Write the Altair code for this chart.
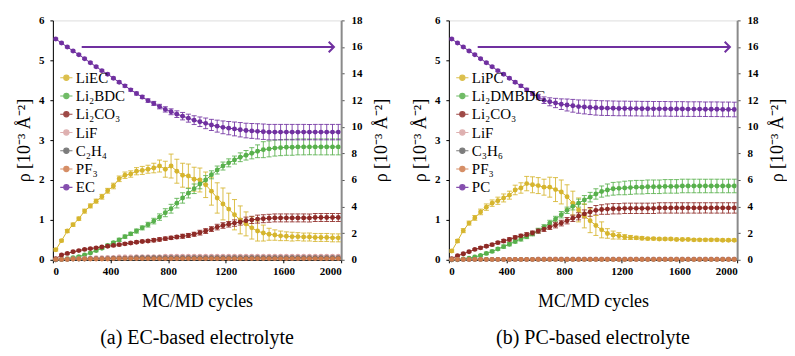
import altair as alt
import pandas as pd

cycles = list(range(20, 2000, 40))

a_names = ["LiEC", "Li₂BDC", "Li₂CO₃", "LiF", "C₂H₄", "PF₃", "EC"]
b_names = ["LiPC", "Li₂DMBDC", "Li₂CO₃", "LiF", "C₃H₆", "PF₃", "PC"]
colors = ["#D6B52E", "#58B04C", "#8E2A26", "#D9A3A3", "#666666", "#CF7B4C", "#7030A0"]

# ---------- panel (a) EC-based ----------
a_liec = [0.25, 0.48, 0.72, 0.88, 1.03, 1.22, 1.35, 1.47, 1.58, 1.73,
          1.85, 2.03, 2.12, 2.15, 2.22, 2.24, 2.27, 2.30, 2.35, 2.27,
          2.35, 2.22, 2.12, 2.10, 2.02, 2.00, 1.88, 1.72, 1.55, 1.40,
          1.27, 1.13, 1.00, 0.90, 0.80, 0.72, 0.67, 0.64, 0.62, 0.60,
          0.59, 0.58, 0.58, 0.57, 0.57, 0.56, 0.56, 0.56, 0.55, 0.55]
a_liec_err = [0.03, 0.03, 0.04, 0.04, 0.04, 0.05, 0.05, 0.05, 0.06, 0.06,
              0.07, 0.07, 0.08, 0.08, 0.09, 0.10, 0.10, 0.12, 0.15, 0.20,
              0.30, 0.30, 0.30, 0.30, 0.30, 0.30, 0.32, 0.35, 0.38, 0.40,
              0.40, 0.38, 0.35, 0.30, 0.28, 0.25, 0.20, 0.15, 0.13, 0.12,
              0.11, 0.11, 0.10, 0.10, 0.10, 0.10, 0.10, 0.10, 0.10, 0.10]
a_bdc = [0.00, 0.01, 0.03, 0.05, 0.08, 0.12, 0.17, 0.23, 0.29, 0.36,
         0.43, 0.50, 0.58, 0.65, 0.72, 0.80, 0.88, 0.97, 1.07, 1.18,
         1.28, 1.42, 1.55, 1.67, 1.78, 1.90, 2.00, 2.13, 2.25, 2.35,
         2.43, 2.50, 2.57, 2.62, 2.67, 2.72, 2.76, 2.78, 2.80, 2.81,
         2.82, 2.82, 2.83, 2.83, 2.83, 2.83, 2.83, 2.83, 2.83, 2.83]
a_bdc_err = [0.01, 0.01, 0.01, 0.02, 0.02, 0.02, 0.02, 0.03, 0.03, 0.03,
             0.03, 0.04, 0.04, 0.04, 0.05, 0.05, 0.06, 0.07, 0.08, 0.10,
             0.11, 0.12, 0.13, 0.12, 0.12, 0.12, 0.11, 0.10, 0.10, 0.10,
             0.10, 0.10, 0.11, 0.12, 0.14, 0.16, 0.20, 0.20, 0.20, 0.20,
             0.20, 0.20, 0.20, 0.20, 0.20, 0.20, 0.20, 0.20, 0.20, 0.20]
a_co3 = [0.03, 0.12, 0.16, 0.20, 0.23, 0.26, 0.28, 0.30, 0.32, 0.34,
         0.36, 0.38, 0.40, 0.42, 0.44, 0.46, 0.47, 0.49, 0.51, 0.53,
         0.55, 0.57, 0.59, 0.61, 0.64, 0.68, 0.72, 0.77, 0.82, 0.86,
         0.89, 0.92, 0.95, 0.98, 1.00, 1.02, 1.03, 1.04, 1.05, 1.05,
         1.05, 1.05, 1.05, 1.05, 1.05, 1.06, 1.06, 1.06, 1.06, 1.06]
a_co3_err = [0.01, 0.02, 0.02, 0.02, 0.02, 0.02, 0.02, 0.02, 0.02, 0.03,
             0.03, 0.03, 0.03, 0.03, 0.03, 0.03, 0.03, 0.04, 0.04, 0.04,
             0.04, 0.04, 0.05, 0.05, 0.05, 0.06, 0.06, 0.06, 0.07, 0.07,
             0.07, 0.08, 0.08, 0.09, 0.09, 0.10, 0.10, 0.10, 0.10, 0.10,
             0.10, 0.10, 0.10, 0.10, 0.10, 0.10, 0.10, 0.10, 0.10, 0.10]
a_lif = [0.00, 0.01, 0.02, 0.03, 0.03, 0.04, 0.04, 0.05, 0.05, 0.06,
         0.06, 0.07, 0.07, 0.07, 0.08, 0.08, 0.08, 0.08, 0.08, 0.09,
         0.09, 0.09, 0.09, 0.09, 0.09, 0.09, 0.09, 0.09, 0.09, 0.09,
         0.09, 0.09, 0.09, 0.09, 0.09, 0.09, 0.09, 0.09, 0.09, 0.09,
         0.09, 0.09, 0.09, 0.09, 0.09, 0.09, 0.09, 0.09, 0.09, 0.09]
a_c2h4 = [0.00, 0.01, 0.01, 0.02, 0.02, 0.02, 0.03, 0.03, 0.03, 0.03,
          0.04, 0.04, 0.04, 0.04, 0.05, 0.05, 0.05, 0.05, 0.05, 0.05,
          0.05, 0.05, 0.05, 0.05, 0.05, 0.05, 0.05, 0.05, 0.05, 0.05,
          0.05, 0.05, 0.05, 0.05, 0.05, 0.05, 0.05, 0.05, 0.05, 0.05,
          0.05, 0.05, 0.05, 0.05, 0.05, 0.05, 0.05, 0.05, 0.05, 0.05]
a_pf3 = [0.01, 0.01, 0.01, 0.02, 0.02, 0.02, 0.02, 0.02, 0.02, 0.02,
         0.03, 0.03, 0.03, 0.03, 0.03, 0.03, 0.03, 0.03, 0.03, 0.03,
         0.03, 0.03, 0.03, 0.03, 0.03, 0.03, 0.03, 0.03, 0.03, 0.03,
         0.03, 0.03, 0.03, 0.03, 0.03, 0.03, 0.03, 0.03, 0.03, 0.03,
         0.03, 0.03, 0.03, 0.03, 0.03, 0.03, 0.03, 0.03, 0.03, 0.03]
small_err = [0.01, 0.01, 0.01, 0.01, 0.01, 0.01, 0.01, 0.01, 0.01, 0.01,
             0.01, 0.01, 0.01, 0.01, 0.01, 0.02, 0.02, 0.02, 0.02, 0.02,
             0.02, 0.02, 0.02, 0.02, 0.02, 0.02, 0.02, 0.02, 0.02, 0.02,
             0.02, 0.02, 0.02, 0.02, 0.02, 0.02, 0.02, 0.02, 0.02, 0.02,
             0.02, 0.02, 0.02, 0.02, 0.02, 0.02, 0.02, 0.02, 0.02, 0.02]
# solvent on right axis (0-18)
a_ec = [16.60, 16.30, 16.00, 15.70, 15.42, 15.12, 14.82, 14.52, 14.22, 13.95,
        13.65, 13.35, 13.08, 12.78, 12.50, 12.24, 11.97, 11.76, 11.52, 11.31,
        11.13, 10.95, 10.80, 10.65, 10.50, 10.38, 10.26, 10.14, 10.05, 9.96,
        9.90, 9.84, 9.78, 9.72, 9.69, 9.66, 9.63, 9.60, 9.60, 9.60,
        9.60, 9.60, 9.60, 9.60, 9.60, 9.60, 9.60, 9.60, 9.60, 9.60]
a_ec_err = [0.06, 0.06, 0.06, 0.06, 0.06, 0.06, 0.07, 0.07, 0.07, 0.08,
            0.08, 0.09, 0.10, 0.10, 0.11, 0.12, 0.13, 0.15, 0.17, 0.20,
            0.22, 0.25, 0.28, 0.30, 0.33, 0.36, 0.40, 0.42, 0.45, 0.48,
            0.50, 0.52, 0.54, 0.55, 0.56, 0.57, 0.58, 0.58, 0.58, 0.58,
            0.58, 0.58, 0.58, 0.58, 0.58, 0.58, 0.58, 0.58, 0.58, 0.58]

# ---------- panel (b) PC-based ----------
b_lipc = [0.22, 0.47, 0.73, 0.92, 1.05, 1.20, 1.32, 1.42, 1.48, 1.55,
          1.62, 1.75, 1.80, 1.91, 1.88, 1.86, 1.82, 1.82, 1.76, 1.70,
          1.58, 1.42, 1.25, 1.10, 0.98, 0.86, 0.75, 0.66, 0.62, 0.60,
          0.57, 0.56, 0.55, 0.54, 0.53, 0.53, 0.52, 0.52, 0.52, 0.51,
          0.51, 0.51, 0.50, 0.50, 0.50, 0.50, 0.50, 0.49, 0.49, 0.49]
b_lipc_err = [0.03, 0.04, 0.05, 0.05, 0.06, 0.07, 0.08, 0.08, 0.09, 0.10,
              0.10, 0.12, 0.13, 0.18, 0.20, 0.20, 0.20, 0.25, 0.30, 0.30,
              0.30, 0.30, 0.30, 0.30, 0.30, 0.25, 0.20, 0.12, 0.10, 0.08,
              0.06, 0.05, 0.04, 0.04, 0.03, 0.03, 0.03, 0.03, 0.03, 0.03,
              0.03, 0.03, 0.03, 0.03, 0.03, 0.03, 0.03, 0.03, 0.03, 0.03]
b_dmbdc = [0.00, 0.01, 0.02, 0.04, 0.07, 0.11, 0.16, 0.21, 0.27, 0.33,
           0.39, 0.46, 0.52, 0.58, 0.65, 0.73, 0.82, 0.92, 1.02, 1.13,
           1.24, 1.34, 1.42, 1.50, 1.57, 1.65, 1.71, 1.75, 1.78, 1.79,
           1.80, 1.81, 1.82, 1.82, 1.83, 1.83, 1.83, 1.84, 1.84, 1.84,
           1.85, 1.85, 1.85, 1.85, 1.85, 1.85, 1.85, 1.85, 1.85, 1.85]
b_dmbdc_err = [0.01, 0.01, 0.01, 0.02, 0.02, 0.02, 0.03, 0.03, 0.03, 0.04,
               0.04, 0.04, 0.05, 0.05, 0.05, 0.06, 0.06, 0.07, 0.07, 0.08,
               0.08, 0.09, 0.10, 0.11, 0.12, 0.13, 0.14, 0.15, 0.16, 0.16,
               0.17, 0.17, 0.17, 0.17, 0.17, 0.17, 0.17, 0.17, 0.17, 0.17,
               0.17, 0.17, 0.17, 0.17, 0.17, 0.17, 0.17, 0.17, 0.17, 0.17]
b_co3 = [0.03, 0.10, 0.15, 0.20, 0.26, 0.30, 0.34, 0.38, 0.43, 0.47,
         0.51, 0.56, 0.60, 0.63, 0.67, 0.72, 0.77, 0.82, 0.87, 0.92,
         0.98, 1.04, 1.09, 1.15, 1.20, 1.24, 1.26, 1.27, 1.28, 1.28,
         1.29, 1.29, 1.29, 1.29, 1.29, 1.29, 1.30, 1.30, 1.30, 1.30,
         1.30, 1.30, 1.30, 1.30, 1.30, 1.30, 1.30, 1.30, 1.30, 1.30]
b_co3_err = [0.01, 0.02, 0.02, 0.02, 0.02, 0.03, 0.03, 0.03, 0.03, 0.04,
             0.04, 0.04, 0.04, 0.05, 0.05, 0.05, 0.06, 0.06, 0.07, 0.07,
             0.08, 0.08, 0.09, 0.10, 0.11, 0.12, 0.12, 0.13, 0.13, 0.13,
             0.13, 0.13, 0.13, 0.13, 0.13, 0.13, 0.13, 0.13, 0.13, 0.13,
             0.13, 0.13, 0.13, 0.13, 0.13, 0.13, 0.13, 0.13, 0.13, 0.13]
b_lif = [0.00, 0.01, 0.01, 0.01, 0.01, 0.01, 0.01, 0.01, 0.01, 0.01,
         0.01, 0.01, 0.01, 0.01, 0.01, 0.02, 0.02, 0.02, 0.02, 0.02,
         0.02, 0.02, 0.02, 0.02, 0.02, 0.02, 0.02, 0.02, 0.02, 0.02,
         0.02, 0.02, 0.02, 0.02, 0.02, 0.02, 0.02, 0.02, 0.02, 0.02,
         0.02, 0.02, 0.02, 0.02, 0.02, 0.02, 0.02, 0.02, 0.02, 0.02]
b_c3h6 = [0.00, 0.00, 0.01, 0.01, 0.01, 0.01, 0.01, 0.01, 0.01, 0.01,
          0.01, 0.01, 0.01, 0.01, 0.01, 0.01, 0.01, 0.01, 0.01, 0.01,
          0.01, 0.01, 0.01, 0.01, 0.01, 0.01, 0.01, 0.01, 0.01, 0.01,
          0.01, 0.01, 0.01, 0.01, 0.01, 0.01, 0.01, 0.01, 0.01, 0.01,
          0.01, 0.01, 0.01, 0.01, 0.01, 0.01, 0.01, 0.01, 0.01, 0.01]
b_pf3 = [0.01, 0.01, 0.01, 0.01, 0.01, 0.01, 0.01, 0.01, 0.01, 0.01,
         0.01, 0.01, 0.01, 0.01, 0.01, 0.01, 0.01, 0.01, 0.01, 0.01,
         0.01, 0.01, 0.01, 0.01, 0.01, 0.01, 0.01, 0.01, 0.01, 0.01,
         0.01, 0.01, 0.01, 0.01, 0.01, 0.01, 0.01, 0.01, 0.01, 0.01,
         0.01, 0.01, 0.01, 0.01, 0.01, 0.01, 0.01, 0.01, 0.01, 0.01]
b_pc = [16.60, 16.30, 16.00, 15.70, 15.42, 15.12, 14.82, 14.52, 14.22, 13.95,
        13.65, 13.35, 13.08, 12.78, 12.50, 12.24, 12.00, 11.88, 11.79, 11.70,
        11.64, 11.58, 11.52, 11.49, 11.46, 11.43, 11.41, 11.40, 11.39, 11.38,
        11.38, 11.37, 11.37, 11.36, 11.36, 11.35, 11.35, 11.35, 11.34, 11.34,
        11.34, 11.33, 11.33, 11.33, 11.32, 11.32, 11.32, 11.31, 11.31, 11.30]
b_pc_err = [0.06, 0.06, 0.06, 0.06, 0.06, 0.06, 0.07, 0.07, 0.07, 0.08,
            0.08, 0.09, 0.10, 0.12, 0.15, 0.20, 0.25, 0.30, 0.35, 0.40,
            0.45, 0.48, 0.50, 0.52, 0.54, 0.55, 0.55, 0.55, 0.55, 0.55,
            0.55, 0.55, 0.55, 0.55, 0.55, 0.55, 0.55, 0.55, 0.55, 0.55,
            0.55, 0.55, 0.55, 0.55, 0.55, 0.55, 0.55, 0.55, 0.55, 0.55]

arrow_start = 200
arrow_end = 1950
arrow_level = 16

x_ticks = [0, 400, 800, 1200, 1600, 2000]
left_ticks = [0, 1, 2, 3, 4, 5, 6]
right_ticks = [0, 2, 4, 6, 8, 10, 12, 14, 16, 18]

FONT = "Liberation Serif"
Y_TITLE = "ρ [10⁻³ Å⁻²]"
LEG_SYMBOL = ("M-1,0L-0.42,0M0.42,0L1,0"
              "M-0.42,0A0.42,0.42,0,1,1,0.42,0A0.42,0.42,0,1,1,-0.42,0Z")
HEAD = "M-1,-1L0,0L-1,1"
PLOT_W = 289
PLOT_H = 240


def table(names, series, errs):
    rows = []
    for name, vals, err in zip(names, series, errs):
        for c, v, e in zip(cycles, vals, err):
            rows.append({"series": name, "x": c, "y": v, "lo": v - e, "hi": v + e})
    return pd.DataFrame(rows)


def panel(names, species, species_err, solvent, solvent_err, caption):
    color = alt.Color(
        "series:N",
        scale=alt.Scale(domain=names, range=colors),
        legend=alt.Legend(
            title=None, orient="none", legendX=6, legendY=50,
            symbolType=LEG_SYMBOL, symbolSize=150, symbolStrokeWidth=1.2,
            labelFont=FONT, labelFontSize=15, labelColor="black",
            rowPadding=2.3, labelOffset=2, padding=0,
        ),
    )
    xscale = alt.Scale(domain=[0, 2000], nice=False)
    x_axis = alt.Axis(
        values=x_ticks, title="MC/MD cycles", format="d",
        labelFont=FONT, labelFontWeight="bold", labelFontSize=11,
        labelColor="black", tickSize=3, tickColor="black",
        domainColor="black", labelPadding=3, grid=False,
        titleFont=FONT, titleFontSize=18, titleFontWeight="normal",
        titleColor="black", titlePadding=16,
    )
    lscale = alt.Scale(domain=[0, 6], nice=False)
    rscale = alt.Scale(domain=[0, 18], nice=False)
    left_axis = alt.Axis(
        orient="left", values=left_ticks, title=Y_TITLE, grid=False,
        labelFont=FONT, labelFontWeight="bold", labelFontSize=11,
        labelColor="black", tickSize=3, tickColor="black",
        domainColor="black", labelPadding=6, minExtent=17, maxExtent=17,
        titleFont=FONT, titleFontSize=18, titleFontWeight="normal",
        titleColor="black", titlePadding=2,
    )
    right_axis = alt.Axis(
        orient="right", values=right_ticks, title=Y_TITLE, grid=False,
        labelFont=FONT, labelFontWeight="bold", labelFontSize=11,
        labelColor="black", tickSize=3, tickColor="#555555",
        domainColor="#8a8a8a", domainWidth=2, labelPadding=7,
        minExtent=22, maxExtent=22, titleAngle=270, titleBaseline="top",
        titleFont=FONT, titleFontSize=18, titleFontWeight="normal",
        titleColor="black", titlePadding=9,
    )

    def X(field):
        return alt.X(field, scale=xscale, axis=x_axis)

    df_l = table(names[:6], species, species_err)
    df_r = table(names[6:], [solvent], [solvent_err])

    def group(df, scale, axis):
        base = alt.Chart(df)
        bars = base.mark_rule(strokeWidth=1, opacity=0.85).encode(
            x=X("x:Q"), y=alt.Y("lo:Q", scale=scale, axis=axis), y2="hi:Q",
            color=color)
        cap_lo = base.mark_tick(orient="horizontal", size=5, thickness=1,
                                opacity=0.85).encode(
            x=X("x:Q"), y=alt.Y("lo:Q", scale=scale, axis=axis), color=color)
        cap_hi = base.mark_tick(orient="horizontal", size=5, thickness=1,
                                opacity=0.85).encode(
            x=X("x:Q"), y=alt.Y("hi:Q", scale=scale, axis=axis), color=color)
        line = base.mark_line(strokeWidth=1).encode(
            x=X("x:Q"), y=alt.Y("y:Q", scale=scale, axis=axis), color=color,
            detail="series:N")
        pts = base.mark_point(filled=True, size=24, opacity=1,
                              strokeWidth=0.6).encode(
            x=X("x:Q"), y=alt.Y("y:Q", scale=scale, axis=axis), color=color)
        return [bars, cap_lo, cap_hi, line, pts]

    left_layers = group(df_l, lscale, left_axis)
    right_layers = group(df_r, rscale, right_axis)

    arrow_df = pd.DataFrame({"x": [arrow_start], "x2": [arrow_end],
                             "y": [arrow_level]})
    arrow_line = alt.Chart(arrow_df).mark_rule(
        color="#7030A0", strokeWidth=2).encode(
        x=X("x:Q"), x2="x2:Q", y=alt.Y("y:Q", scale=rscale, axis=right_axis))
    arrow_head = alt.Chart(arrow_df).mark_point(
        shape=HEAD, filled=False, color="#7030A0", strokeWidth=2,
        size=110, opacity=1).encode(
        x=X("x2:Q"),
        y=alt.Y("y:Q", scale=rscale, axis=right_axis))

    left = alt.layer(*left_layers)
    right = alt.layer(*right_layers, arrow_line, arrow_head)
    return alt.layer(left, right).resolve_scale(y="independent").properties(
        width=PLOT_W, height=PLOT_H,
        title=alt.TitleParams(
            text=caption, orient="bottom", anchor="middle", frame="group",
            font=FONT, fontSize=20, fontWeight="normal", color="black",
            offset=17,
        ),
    )


pa = panel(a_names,
           [a_liec, a_bdc, a_co3, a_lif, a_c2h4, a_pf3],
           [a_liec_err, a_bdc_err, a_co3_err, small_err, small_err, small_err],
           a_ec, a_ec_err, "(a) EC-based electrolyte")
pb = panel(b_names,
           [b_lipc, b_dmbdc, b_co3, b_lif, b_c3h6, b_pf3],
           [b_lipc_err, b_dmbdc_err, b_co3_err, small_err, small_err, small_err],
           b_pc, b_pc_err, "(b) PC-based electrolyte")

chart = alt.hconcat(pa, pb, spacing=20).resolve_scale(
    color="independent").properties(
    padding={"left": 7, "top": 5, "right": 0, "bottom": 0}
).configure_view(stroke="#9a9a9a", strokeWidth=1).configure(
    background="white")

chart.save("out.html", embed_options={"renderer": "svg", "actions": False})
